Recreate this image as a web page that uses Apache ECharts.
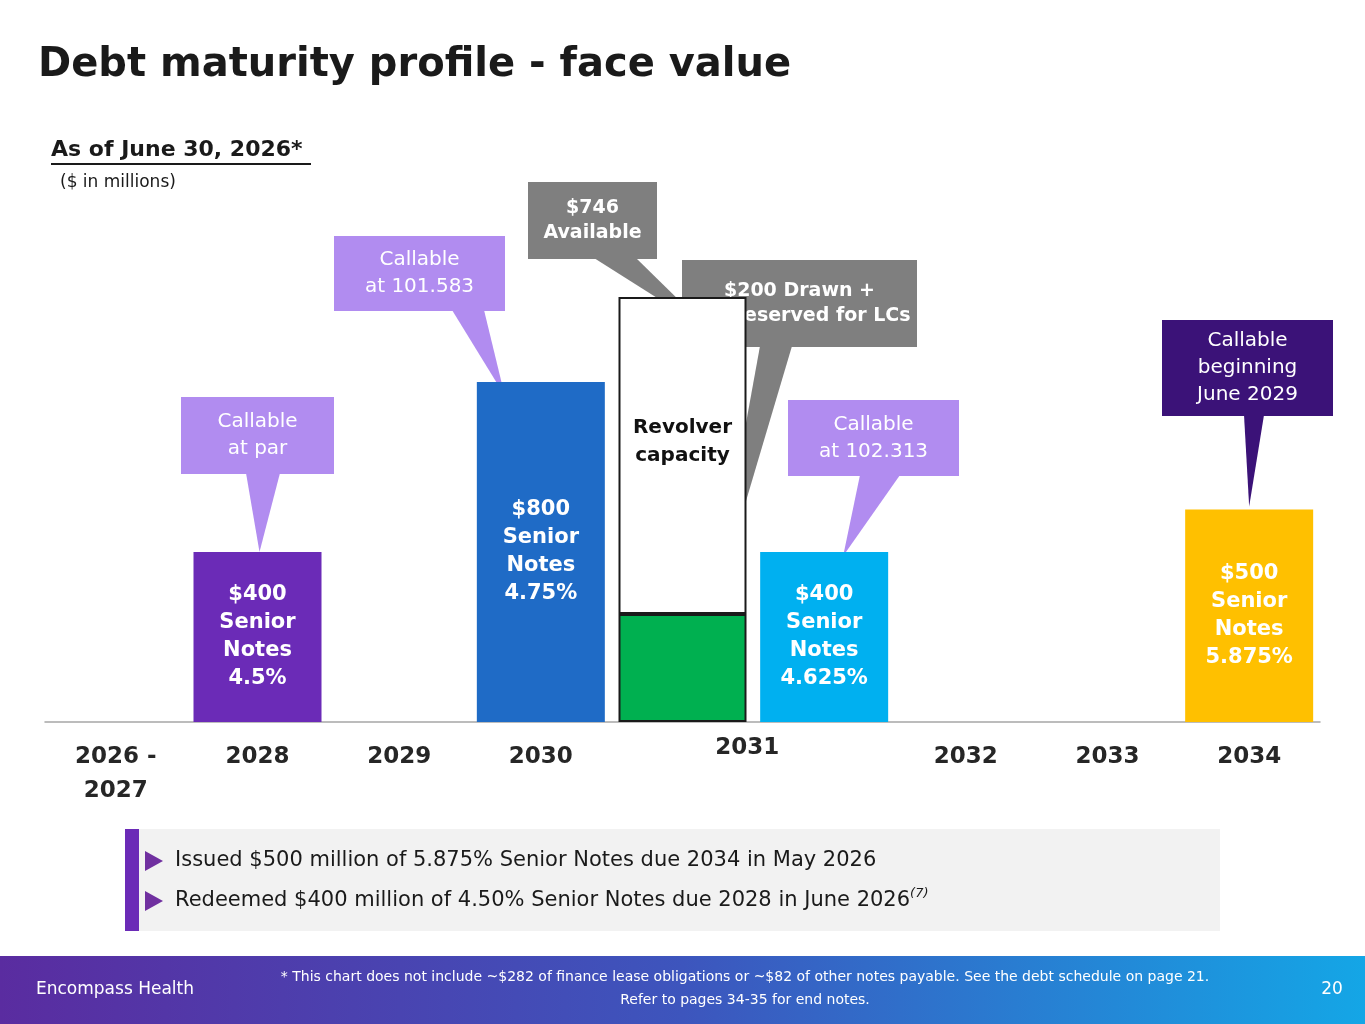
<!DOCTYPE html>
<html><head><meta charset="utf-8">
<script src="https://cdn.jsdelivr.net/npm/echarts@6/dist/echarts.min.js"></script>
<style>html,body{margin:0;padding:0;background:#fff}#c{width:1365px;height:1024px}</style>
</head><body><div id="c"></div>
<script>
const FONT = '"DejaVu Sans", Verdana, sans-serif';
const categories = ['2026 -\n2027', '2028', '2029', '2030', '2031a', '2031b', '2032', '2033', '2034'];
const noteValues = [null, 400, null, 800, null, 400, null, null, 500];
const noteLabels = ['', '$400\nSenior\nNotes\n4.5%', '', '$800\nSenior\nNotes\n4.75%', '', '$400\nSenior\nNotes\n4.625%', '', '', '$500\nSenior\nNotes\n5.875%'];
const noteColors = [null, '#6b2bb7', null, '#1f6bc6', null, '#00b0f0', null, null, '#ffc000'];
const revolverDrawn = [null, null, null, null, 254, null, null, null, null];
const revolverAvail = [null, null, null, null, 746, null, null, null, null];

const chart = echarts.init(document.getElementById('c'));
chart.setOption({
  animation: false,
  textStyle: { fontFamily: FONT },
  grid: { left: 45, right: 45, top: 297, bottom: 302 },
  xAxis: {
    type: 'category', data: categories,
    axisLine: { lineStyle: { color: '#a6a6a6', width: 1.5 } },
    axisTick: { show: false },
    axisLabel: {
      color: '#262626', fontWeight: 'bold', fontSize: 23, fontFamily: FONT, margin: 18, lineHeight: 34,
      formatter: v => v.startsWith('2031') ? '' : v
    }
  },
  yAxis: { type: 'value', min: 0, max: 1000, show: false, splitLine: { show: false } },
  series: [
    {
      type: 'bar', barWidth: 128, barGap: '-100%',
      data: noteValues.map((v, i) => v == null ? null : { value: v, itemStyle: { color: noteColors[i] } }),
      label: {
        show: true, position: 'inside', color: '#fff', fontWeight: 'bold', fontSize: 21, lineHeight: 28,
        fontFamily: FONT, formatter: p => noteLabels[p.dataIndex]
      }
    },
    {
      type: 'bar', stack: 'rev', barWidth: 128, barGap: '-100%',
      data: revolverDrawn, itemStyle: { color: '#00b050', borderColor: '#1a1a1a', borderWidth: 2 }
    },
    {
      type: 'bar', stack: 'rev', barWidth: 128,
      data: revolverAvail, itemStyle: { color: '#fff', borderColor: '#1a1a1a', borderWidth: 2 },
      label: { show: true, position: 'inside', offset: [0, -14], formatter: 'Revolver\ncapacity', color: '#111', fontWeight: 'bold', fontSize: 20, lineHeight: 28, fontFamily: FONT }
    }
  ]
});

function px(cat, val) { return chart.convertToPixel({ gridIndex: 0 }, [cat, val]); }

// callouts: box, fill, text, pointer base (x1,x2 on box bottom) and tip
const c2031 = (px(4, 0)[0] + px(5, 0)[0]) / 2;
const callouts = [
  { box: [181, 397, 153, 77], fill: '#b18cf0', text: 'Callable\nat par', base: [246, 280], tip: [px(1, 400)[0] + 2, px(1, 400)[1]] },
  { box: [334, 236, 171, 75], fill: '#b18cf0', text: 'Callable\nat 101.583', base: [452, 484], tip: [px(3, 800)[0] - 36, px(3, 800)[1] + 14] },
  { box: [528, 182, 129, 77], fill: '#7f7f7f', text: '$746\nAvailable', bold: true, base: [594, 636], tip: [px(4, 1000)[0] + 30, px(4, 1000)[1] + 36] },
  { box: [682, 260, 235, 87], fill: '#7f7f7f', text: '$200 Drawn +\n$54 reserved for LCs', bold: true, base: [760, 792], tip: [px(4, 254)[0] + 27, px(4, 254)[1] + 10] },
  { box: [788, 400, 171, 76], fill: '#b18cf0', text: 'Callable\nat 102.313', base: [860, 900], tip: [px(5, 400)[0] + 19, px(5, 400)[1] + 4] },
  { box: [1162, 320, 171, 96], fill: '#3b1278', text: 'Callable\nbeginning\nJune 2029', base: [1244, 1264], tip: [px(8, 500)[0], px(8, 500)[1] - 3] }
];

const g = [];
callouts.forEach(c => {
  const [x, y, w, h] = c.box;
  g.push({ type: 'polygon', shape: { points: [[c.base[0], y + h - 1], [c.base[1], y + h - 1], c.tip] }, style: { fill: c.fill } });
  g.push({ type: 'rect', shape: { x, y, width: w, height: h }, style: { fill: c.fill } });
  g.push({ type: 'text', x: x + w / 2, y: y + h / 2, style: {
    text: c.text, fill: '#fff', font: (c.bold ? 'bold ' : '') + (c.bold ? 19 : 20) + 'px ' + FONT,
    align: 'center', verticalAlign: 'middle', lineHeight: c.bold ? 25 : 27 } });
});

g.push(
  { type: 'text', x: c2031 - 6, y: 748, style: { text: '2031', fill: '#262626', font: 'bold 23px ' + FONT, align: 'center', verticalAlign: 'middle' } },
  { type: 'text', x: 38, y: 66, style: { text: 'Debt maturity profile - face value', fill: '#1a1a1a', font: 'bold 40px ' + FONT, verticalAlign: 'middle' } },
  { type: 'text', x: 51, y: 150, style: { text: 'As of June 30, 2026*', fill: '#1a1a1a', font: 'bold 22px ' + FONT, verticalAlign: 'middle' } },
  { type: 'rect', shape: { x: 51, y: 163, width: 260, height: 2 }, style: { fill: '#1a1a1a' } },
  { type: 'text', x: 60, y: 183, style: { text: '($ in millions)', fill: '#1a1a1a', font: '17px ' + FONT, verticalAlign: 'middle' } },
  // note box
  { type: 'rect', shape: { x: 125, y: 829, width: 1095, height: 102 }, style: { fill: '#f2f2f2' } },
  { type: 'rect', shape: { x: 125, y: 829, width: 14, height: 102 }, style: { fill: '#6b2bb7' } },
  { type: 'polygon', shape: { points: [[145, 851], [145, 871], [163, 861]] }, style: { fill: '#7030a0' } },
  { type: 'polygon', shape: { points: [[145, 891], [145, 911], [163, 901]] }, style: { fill: '#7030a0' } },
  { type: 'text', x: 175, y: 861, style: { text: 'Issued $500 million of 5.875% Senior Notes due 2034 in May 2026', fill: '#1a1a1a', font: '21px ' + FONT, verticalAlign: 'middle' } },
  { type: 'text', x: 175, y: 901, style: { text: 'Redeemed $400 million of 4.50% Senior Notes due 2028 in June 2026{s|(7)}', fill: '#1a1a1a', font: '21px ' + FONT, verticalAlign: 'middle',
    rich: { s: { font: 'italic 13px ' + FONT, verticalAlign: 'top', padding: [0, 0, 14, 0], fill: '#1a1a1a' } } } },
  // footer
  { type: 'rect', shape: { x: 0, y: 956, width: 1365, height: 68 }, style: { fill: new echarts.graphic.LinearGradient(0, 0, 1, 0, [{ offset: 0, color: '#5a2ca0' }, { offset: 0.5, color: '#3d55bd' }, { offset: 1, color: '#14a6e6' }]) } },
  { type: 'text', x: 36, y: 990, style: { text: 'Encompass Health', fill: '#fff', font: '17px ' + FONT, verticalAlign: 'middle' } },
  { type: 'text', x: 745, y: 989, style: { text: '* This chart does not include ~$282 of finance lease obligations or ~$82 of other notes payable. See the debt schedule on page 21.\nRefer to pages 34-35 for end notes.', fill: '#fff', font: '14px ' + FONT, align: 'center', verticalAlign: 'middle', lineHeight: 23 } },
  { type: 'text', x: 1332, y: 990, style: { text: '20', fill: '#fff', font: '17px ' + FONT, align: 'center', verticalAlign: 'middle' } }
);
chart.setOption({ graphic: g });
</script></body></html>
